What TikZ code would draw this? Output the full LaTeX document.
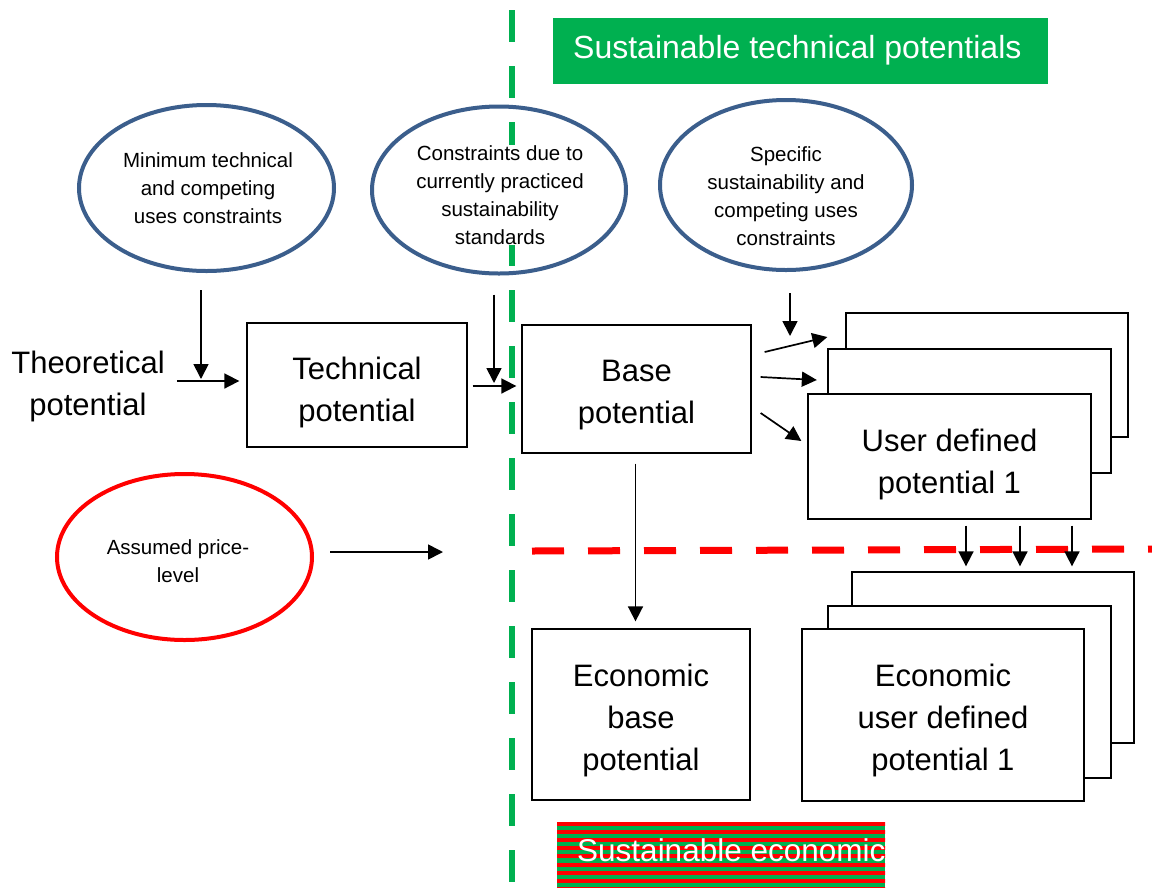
\documentclass[tikz,border=0pt]{standalone}
\usepackage{fontspec}
\setmainfont{Liberation Sans}
\usetikzlibrary{shapes.geometric,arrows.meta}
\definecolor{ggreen}{HTML}{00B050}
\definecolor{eblue}{HTML}{3B5E8C}
\definecolor{rred}{HTML}{FF0000}
\begin{document}
\begin{tikzpicture}[x=1pt,y=-1pt,
  box/.style={draw, line width=1.3pt, fill=white, inner sep=0pt},
  btxt/.style={inner sep=0pt, align=center, font=\fontsize{31}{42}\selectfont},
  ell/.style={ellipse, draw=#1, line width=4pt, inner sep=0pt},
  etxt/.style={inner sep=0pt, align=center, font=\fontsize{20.5}{28}\selectfont},
  arr/.style={line width=1.7pt, -{Triangle[length=15pt,width=15pt]}},
  ]
\useasboundingbox (0,0) rectangle (1152,887);
\fill[white] (0,0) rectangle (1152,887);

% dividing lines
\draw[ggreen, line width=6.5pt, dash pattern=on 32pt off 24pt] (512,10) -- (512,887);
\draw[rred, line width=7pt, dash pattern=on 32pt off 24pt] (532,551) -- (1152,549);

% header boxes
\node[fill=ggreen, minimum width=495pt, minimum height=66pt, inner sep=0pt] (stp) at (800.5,51) {};
\node[anchor=west, inner sep=0pt, text=white, font=\fontsize{32}{38}\selectfont] (stpt) at (573,50) {Sustainable technical potentials};
\node[fill=ggreen, minimum width=328pt, minimum height=65pt, inner sep=0pt,
  path picture={\foreach \i in {0,...,8} \fill[rred] ([yshift=-\i*8.1pt]path picture bounding box.north west) rectangle ++(330pt,-4pt);}] (seb) at (721,854.5) {};
\node[anchor=west, inner sep=0pt, text=white, font=\fontsize{31.5}{38}\selectfont] (set) at (577,850) {Sustainable economic};

% ellipses
\node[ell=eblue, minimum width=255pt, minimum height=166pt] (e1) at (206.5,188) {};
\node[etxt] (e1t) at (208,188) {Minimum technical\\and competing\\uses constraints};
\node[fill=white, inner xsep=2pt, inner ysep=12pt, etxt] (e2t) at (500,195)
  {Constraints due to\\currently practiced\\sustainability\\standards};
\node[ell=eblue, minimum width=254pt, minimum height=167pt] (e2) at (499,190) {};
\node[ell=eblue, minimum width=252pt, minimum height=170pt] (e3) at (786,185) {};
\node[etxt] (e3t) at (786,196) {Specific\\sustainability and\\competing uses\\constraints};
\node[ell=rred, minimum width=255pt, minimum height=166pt] (red) at (184.5,557) {};
\node[etxt] (redt) at (178,561) {Assumed price-\\level};

% text and boxes
\node[btxt] (theo) at (88,386) {Theoretical\\potential};
\node[box, minimum width=220pt, minimum height=124pt] (tech) at (357,385) {};
\node[btxt] (techt) at ([yshift=-7pt]tech.center) {Technical\\potential};
\node[box, minimum width=229pt, minimum height=128pt] (base) at (636.5,389) {};
\node[btxt] (baset) at ([yshift=-6pt]base.center) {Base\\potential};

\node[box, minimum width=282pt, minimum height=124pt] (ub) at (987,375) {};
\node[box, minimum width=283pt, minimum height=124pt] (um) at (969.5,411) {};
\node[box, minimum width=283pt, minimum height=125pt] (uf) at (949.5,456.5) {};
\node[btxt] (uft) at ([yshift=-8pt]uf.center) {User defined\\potential 1};

\node[box, minimum width=218pt, minimum height=171pt] (ebase) at (641,714.5) {};
\node[btxt] (ebaset) at ([yshift=-6pt]ebase.center) {Economic\\base\\potential};
\node[box, minimum width=282pt, minimum height=171pt] (eb) at (993,657.5) {};
\node[box, minimum width=283pt, minimum height=172pt] (em) at (969.5,692) {};
\node[box, minimum width=282pt, minimum height=172pt] (ef) at (943,715) {};
\node[btxt] (eft) at ([yshift=-5pt]ef.center) {Economic\\user defined\\potential 1};

% connectors
\coordinate (j1) at (201,379);
\coordinate (j2) at (494,383);
\coordinate (j3) at (790,336);
\coordinate (pa) at (443,552);
\draw[arr, shorten <=17pt] (e1.south -| j1) -- (j1);
\draw[arr, shorten <=19pt] (e2.south -| j2) -- (j2);
\draw[arr, shorten <=21pt] (e3.south -| j3) -- (j3);
\draw[arr] ([xshift=12pt,yshift=4pt]theo.east |- tech.west) -- ([xshift=-7pt,yshift=4pt]tech.west);
\draw[arr, shorten <=5pt, shorten >=5pt] ([yshift=-1pt]tech.east) -- ([yshift=-1pt]tech.east -| base.west);
\draw[arr] ([xshift=13pt,yshift=37pt]base.east) -- ([xshift=-18pt,yshift=38pt]ub.west);
\draw[arr] ([xshift=9pt,yshift=12pt]base.east) -- ([xshift=-10.5pt,yshift=31pt]um.west);
\draw[arr] ([xshift=9pt,yshift=-24pt]base.east) -- ([xshift=-6pt,yshift=15.5pt]uf.west);
\draw[arr, shorten <=16pt] (red.east |- pa) -- (pa);
\draw[arr, shorten <=10pt, shorten >=7pt] ([xshift=-1pt]base.south) -- ([xshift=-1pt]base.south |- ebase.north);
\foreach \d in {16.5,70.5,122.5}
  \draw[arr, shorten <=6pt, shorten >=5pt] ([xshift=\d pt]uf.south) -- ([xshift=\d pt]uf.south |- eb.north);
\end{tikzpicture}
\end{document}
